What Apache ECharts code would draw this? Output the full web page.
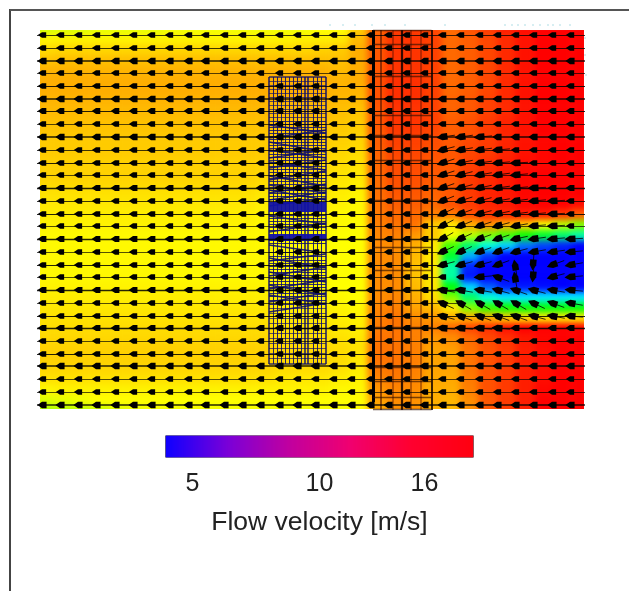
<!DOCTYPE html>
<html><head><meta charset="utf-8">
<style>
html,body{margin:0;padding:0;background:#fff;width:629px;height:591px;overflow:hidden}
#main{width:629px;height:591px}
#main canvas:nth-of-type(1){filter:blur(3px);clip-path:inset(30px 45px 182px 40px)}
#main canvas:nth-of-type(2){filter:blur(.5px)}
</style>
<script src="https://cdn.jsdelivr.net/npm/echarts@6/dist/echarts.min.js"></script>
</head><body><div id="main"></div>
<script>
// flow velocity [m/s], one row per 10 units of height, top to bottom
const velocityRows = [
[11.2,11.3,11.3,11.4,11.4,11.4,11.4,11.5,11.5,11.5,11.5,11.5,11.5,11.5,11.5,11.6,11.6,12.5,14.2,15,15,14.8,14.2,14.6,15,15.5,15.8,16,16,16],
[11.8,11.8,11.8,11.8,11.8,11.8,11.8,11.8,11.8,11.8,11.8,11.8,11.8,11.8,11.9,11.9,12,12.8,14.5,15.1,15.1,14.9,14.2,14.4,14.8,15.3,15.7,16,16,16],
[12.2,12.3,12.3,12.3,12.3,12.3,12.3,12.3,12.3,12.3,12.3,12.3,12.3,12.3,12.3,12.4,12.5,13,14.5,15.1,15.1,14.9,14.2,14.4,14.8,15.3,15.7,16,16,16],
[12.6,12.7,12.7,12.7,12.7,12.7,12.7,12.7,12.7,12.7,12.7,12.7,12.7,12.7,12.7,12.7,12.7,13,14.5,15.1,15.1,14.9,14.2,14.4,14.8,15.3,15.7,16,16,16],
[12.9,12.9,12.9,12.9,12.9,12.9,12.9,12.9,12.9,12.9,12.9,12.9,12.9,12.9,12.9,12.9,12.8,13,14.5,15.1,15.1,14.9,14.2,14.4,14.8,15.3,15.7,16,16,16],
[13,13,13,13,13,13,13,13,13,13,13,13,13,13,13,13,12.9,13,14.6,15.2,15.2,14.9,14.2,14.4,14.8,15.3,15.7,16,16,16],
[13,13,13,13,13,13,13,13,13,13,13,13,13,13,13,13,12.9,12.9,14.6,15.2,15.2,14.9,14.2,14.4,14.8,15.3,15.7,16,16,16],
[12.9,12.9,12.9,12.9,12.9,12.9,12.9,12.9,12.9,12.9,12.9,12.9,12.9,12.9,12.9,12.9,12.8,12.8,14.6,15.2,15.2,14.9,14.3,14.5,14.9,15.3,15.7,16,16,16],
[12.8,12.8,12.8,12.8,12.8,12.8,12.8,12.8,12.8,12.8,12.8,12.8,12.8,12.8,12.8,12.8,12.7,12.6,14.5,15.1,15.1,14.9,14.3,14.5,14.9,15.3,15.7,16,16,16],
[12.7,12.7,12.7,12.7,12.7,12.7,12.7,12.7,12.7,12.7,12.7,12.7,12.7,12.7,12.7,12.7,12.6,12.5,14.5,15.1,15.1,14.9,14.4,14.6,15,15.4,15.7,16,16,16],
[12.6,12.6,12.6,12.6,12.6,12.6,12.6,12.6,12.6,12.6,12.6,12.6,12.6,12.6,12.6,12.6,12.5,12.4,14.4,15,15,14.8,14.4,14.6,15,15.4,15.7,16,16,16],
[12.5,12.5,12.5,12.5,12.5,12.5,12.5,12.5,12.5,12.5,12.5,12.5,12.5,12.5,12.5,12.5,12.4,12.3,14.4,14.9,14.9,14.7,14.5,14.8,15,15.4,15.7,15.9,16,16],
[12.5,12.5,12.5,12.5,12.5,12.5,12.5,12.5,12.5,12.5,12.5,12.5,12.5,12.5,12.5,12.4,12.3,12.2,14.3,14.8,14.8,14.6,14.5,14.8,15,15.4,15.7,15.9,16,16],
[12.4,12.4,12.4,12.4,12.4,12.4,12.4,12.4,12.4,12.4,12.4,12.4,12.4,12.4,12.4,12.3,12.2,12.1,14.2,14.7,14.7,14.5,14.5,14.9,15.2,15.5,15.8,15.9,16,16],
[12.4,12.4,12.4,12.4,12.4,12.4,12.4,12.4,12.4,12.4,12.4,12.4,12.3,12.3,12.3,12.2,12.1,12,14.2,14.7,14.7,14.5,14.5,15,15.3,15.6,15.9,16,16,16],
[12.3,12.3,12.3,12.3,12.3,12.3,12.3,12.3,12.3,12.3,12.3,12.3,12.2,12.2,12.2,12.1,12,11.9,14.1,14.6,14.6,14.4,14.5,15,15.3,15.6,15.9,16,16,16],
[12.1,12.1,12.1,12.1,12.1,12.1,12.1,12.1,12.1,12.1,12.1,12.1,12,12,12,12,11.9,11.8,14.1,14.5,14.5,14.3,14.5,15,15.4,15.6,15.9,16,16,16],
[12,12,12,12,12,12,12,12,12,12,12,12,11.9,11.9,11.9,11.9,11.8,11.7,14,14.4,14.4,14.2,14.6,15,15.4,15.6,15.9,16,16,15.8],
[11.9,11.9,11.9,11.9,11.9,11.9,11.9,11.9,11.9,11.9,11.9,11.9,11.8,11.8,11.8,11.8,11.7,11.7,13.9,14.2,14.2,13.8,13.9,14.6,15.1,15.3,15.5,15.5,15,14.4],
[11.8,11.8,11.8,11.8,11.8,11.8,11.8,11.8,11.8,11.8,11.8,11.8,11.7,11.7,11.7,11.7,11.7,11.6,13.8,14,14,12.5,12,13,13.5,13,12.5,11.5,11,10.5],
[11.7,11.7,11.7,11.7,11.7,11.7,11.7,11.7,11.7,11.7,11.7,11.7,11.7,11.7,11.7,11.7,11.6,11.6,13.7,13.8,13.4,12.5,11.5,11,10.5,10,9.5,9,8.5,8],
[11.7,11.7,11.7,11.7,11.7,11.7,11.7,11.7,11.7,11.7,11.7,11.7,11.7,11.7,11.7,11.7,11.6,11.6,13.6,13.6,13,12,10,8.5,7.5,6.8,6,5.6,5.3,5],
[11.7,11.7,11.7,11.7,11.7,11.7,11.7,11.7,11.7,11.7,11.7,11.7,11.7,11.7,11.7,11.7,11.6,11.6,13.6,13.6,12.8,12,9,6.5,5.5,5,5,5,5,5],
[11.7,11.7,11.7,11.7,11.7,11.7,11.7,11.7,11.7,11.7,11.7,11.7,11.7,11.7,11.7,11.7,11.6,11.6,13.6,13.6,12.7,12,8,5.3,5,5,5,5,5,5],
[11.7,11.7,11.7,11.7,11.7,11.7,11.7,11.7,11.7,11.7,11.7,11.7,11.7,11.7,11.7,11.7,11.6,11.6,13.6,13.6,12.7,12,8,5.2,5,5,5,5,5,5],
[11.8,11.8,11.8,11.8,11.8,11.8,11.8,11.8,11.8,11.8,11.8,11.8,11.8,11.8,11.7,11.7,11.6,11.6,13.6,13.6,12.8,12,9.3,6.8,5.8,5.3,5.2,5.1,5,5],
[11.9,11.9,11.9,11.9,11.9,11.9,11.9,11.9,11.9,11.9,11.9,11.9,11.9,11.8,11.8,11.8,11.7,11.6,13.6,13.7,13,12.2,10.5,8.5,7.5,7,7,7,7,7],
[12,12,12,12,12,12,12,12,12,12,12,12,12,11.9,11.9,11.9,11.8,11.7,13.7,13.8,13.2,12.8,12,10.5,9.8,9.5,9.3,9.3,9.3,9.3],
[12.1,12.1,12.1,12.1,12.1,12.1,12.1,12.1,12.1,12.1,12.1,12.1,12.1,12,12,12,11.9,11.8,13.8,14,13.6,13.4,13,13,13,12.5,12.2,12,12,12],
[12.2,12.2,12.2,12.2,12.2,12.2,12.2,12.2,12.2,12.2,12.2,12.2,12.2,12.1,12.1,12.1,12,11.9,13.9,14,13.8,13.8,14.2,14.8,15.2,15.7,16,16,16,16],
[12.3,12.3,12.3,12.3,12.3,12.3,12.3,12.3,12.3,12.3,12.3,12.3,12.3,12.2,12.2,12.2,12.1,12,14,14,13.8,13.4,13.6,14.2,14.8,15.2,15.6,15.9,16,16],
[12.4,12.4,12.4,12.4,12.4,12.4,12.4,12.4,12.4,12.4,12.4,12.4,12.4,12.3,12.3,12.3,12.2,12.1,14,14,13.8,13.2,13.3,14,14.6,15,15.5,15.8,16,16],
[12.4,12.4,12.4,12.4,12.4,12.4,12.4,12.4,12.4,12.4,12.4,12.4,12.4,12.3,12.3,12.3,12.2,12,14,14,13.8,13.2,13.2,14,14.6,15,15.5,15.8,16,16],
[12.3,12.3,12.3,12.3,12.3,12.3,12.3,12.3,12.3,12.3,12.3,12.3,12.3,12.2,12.2,12.2,12.1,11.9,13.9,14,13.8,13.2,13.2,14,14.6,15,15.5,15.8,16,16],
[12.1,12.1,12.1,12.1,12.1,12.1,12.1,12.1,12.1,12.1,12.1,12.1,12.1,12,12,12,11.9,11.8,13.7,13.9,13.7,13.1,13.1,13.9,14.6,15,15.5,15.8,16,16],
[11.7,11.8,11.8,11.8,11.8,11.8,11.8,11.8,11.8,11.8,11.8,11.8,11.8,11.8,11.8,11.8,11.7,11.7,13.4,13.7,13.6,13,13,13.8,14.6,15,15.5,15.9,16,16],
[11.3,11.4,11.5,11.6,11.6,11.6,11.6,11.6,11.6,11.6,11.6,11.6,11.6,11.6,11.6,11.6,11.6,11.6,13.2,13.6,13.5,13,12.9,13.6,14.5,15,15.5,16,16,16],
[10.8,10.9,11,11.1,11.3,11.4,11.5,11.5,11.5,11.5,11.5,11.5,11.5,11.5,11.5,11.5,11.5,11.6,13,13.5,13.5,13,12.8,13.5,14.5,15,15.5,16,16,16]
];
// arrow glyph stations along and across the section
const arrowX = [2,20,38,56,75,93,111,129,148,165,184,202,220,239,257,275,293,311,330,348,366,384,402,420,439,457,475,493,512,530];
const arrowY = [5,18,31,43,56,69,81,94,107,120,133,145,158,171,184,196,209,222,235,247,260,273,286,298,311,324,336,349,362,375];
// arrow tilt in degrees for the wake, rows 8..23, stations 22..29
const wakeTiltFirstRow = 8, wakeTiltFirstCol = 22;
const wakeTilt = [
[8,8,5,0,0,0,0,0],
[15,10,8,5,0,0,0,0],
[18,12,8,5,3,0,0,0],
[18,15,10,8,5,0,0,0],
[20,15,12,8,5,3,0,0],
[22,18,15,10,8,5,3,0],
[25,20,15,12,8,5,3,0],
[28,22,18,15,10,5,3,0],
[30,25,20,18,12,8,5,3],
[25,25,20,20,15,10,8,5],
[15,15,15,20,-80,85,20,10],
[0,0,5,-20,-80,85,15,5],
[-10,-10,-10,-15,-20,-15,-10,-5],
[-25,-30,-30,-30,-30,-25,-20,-10],
[-15,-20,-20,-20,-20,-15,-10,-5],
[-5,-5,-5,-5,0,0,0,0]
];
// upstream wire-frame structure
const meshX = [229,233,237,241,245,249,253,257,261,265,268,273,277,281,286];
const meshY = [47,51,55,59,63,67,71,75,79,83,87,91,94,97,100,103,106,109,112,115,118,121,124,127,130,133,136,139,142,145,148,151,154,157,160,163,166,169,172,185,188,191,194,197,200,210,213,222,226,230,233,236,239,242,245,248,251,254,257,260,263,266,270,274,278,283,288,293,298,303,308,313,318,323,328,334];
const meshSlants = [[95,103],[108,100],[112,122],[128,120],[132,140],[150,141],[146,156],[163,154],[160,170],[176,168],[120,128],[138,130],[155,163],[170,162],[186,194],[202,193],[215,223],[231,224],[228,238],[246,237],[242,252],[259,250],[255,265],[272,263],[265,274],[282,273]];
const meshBands = [[177,10],[207,7]];
// downstream wind-turbine frame
const towerX = [333,341,353,362,371,381,391.5];
const towerY = [0,14,46,85,105,130,170,217,240,297,337,351,367,379];
// stray glyphs just outside the plotted field
const strayPoints = [[290,-5],[303,-5],[315,-5],[332,-5],[345,-5],[365,-5],[405,-5],[465,-5],[472,-5],[478,-5],[485,-5],[493,-5],[500,-5],[508,-5],[513,-5],[520,-5],[530,-5],[545,8],[545,25],[546,45]];
// colour bar
const colorbarLevels = 307;
const colorbarTicks = {26:'5', 153:'10', 258:'16'};
const colorbarTitle = 'Flow velocity [m/s]';

const lineWidths = [.9,.9,1.6,.8,1,1.6,1.1,.8,1.6,.9,1,.8,1.4,.9,1,.8,1.3,.8,1,.8,1.4,.8,1,1.4,.8,1,1.6,.8,.8,1.6];
const rowLineEnd = {16:400,17:400,18:400,19:400,20:420,21:420};

const heatData = [];
velocityRows.forEach((row,r)=>row.forEach((v,c)=>heatData.push([c,r,v])));

const rowLines = arrowY.map((y,r)=>({coords:[[-3,y],[rowLineEnd[r]||545,y]],lineStyle:{width:lineWidths[r],color:'#000',opacity:.85}}));
const arrows=[], tails=[];
arrowY.forEach((y,r)=>arrowX.forEach((x,c)=>{
  const tr=wakeTilt[r-wakeTiltFirstRow];
  const tilt=tr&&c>=wakeTiltFirstCol?tr[c-wakeTiltFirstCol]:0;
  const w=lineWidths[r];
  arrows.push({value:[x,y],symbolRotate:tilt,symbolSize:tilt?[11,6.5]:[7.5+w,4+1.6*w]});
  if(tilt){const a=tilt*Math.PI/180;tails.push({coords:[[x,y],[x+13*Math.cos(a),y-13*Math.sin(a)]],lineStyle:{width:1,color:'#000',opacity:.8}});}
}));
const navy='#10106a';
const meshLines=[];
meshX.forEach((x,i)=>meshLines.push({coords:[[x,meshY[0]],[x,meshY[meshY.length-1]]],lineStyle:{width:(i===0||i===9||i===10||i===14)?1.6:1,color:navy,opacity:.9}}));
meshY.forEach(y=>meshLines.push({coords:[[meshX[0],y],[meshX[meshX.length-1],y]],lineStyle:{width:y<=47||y>=334?1.6:(y>90&&y<275?1.1:.8),color:navy,opacity:.85}}));
meshSlants.forEach(s=>meshLines.push({coords:[[meshX[0],s[0]],[meshX[meshX.length-1],s[1]]],lineStyle:{width:1.4,color:navy,opacity:.9}}));
meshBands.forEach(b=>meshLines.push({coords:[[meshX[0],b[0]],[meshX[meshX.length-1],b[0]]],lineStyle:{width:b[1],color:'#1212a8',opacity:.95}}));
const towerLines=[];
const towerStyle=[[3,'#000',1],[2,'#501000',.6],[2,'#501000',.4],[2.2,'#100000',.85],[2,'#501000',.4],[2,'#501000',.4],[1.8,'#100000',.9]];
towerX.forEach((x,i)=>towerLines.push({coords:[[x,0],[x,i===0?372:380]],lineStyle:{width:towerStyle[i][0],color:towerStyle[i][1],opacity:towerStyle[i][2]}}));
towerY.forEach(y=>towerLines.push({coords:[[towerX[0],y],[towerX[6],y]],lineStyle:{width:1.4,color:'#301000',opacity:.65}}));

const cbCats=[],cbData=[];
for(let i=0;i<colorbarLevels;i++){cbCats.push(colorbarTicks[i]||'');cbData.push([i,0,i]);}

const plot={left:40,top:30,width:544,height:380};
const chart=echarts.init(document.getElementById('main'),null,{renderer:'canvas'});
chart.setOption({
  animation:false,
  grid:[{left:34,top:24,width:556,height:392},plot,{left:166,top:436,width:307,height:21}],
  xAxis:[
    {type:'category',gridIndex:0,show:false,data:velocityRows[0].map((_,i)=>i)},
    {type:'value',gridIndex:1,show:false,min:0,max:544},
    {type:'category',gridIndex:2,data:cbCats,zlevel:1,name:colorbarTitle,nameLocation:'center',nameGap:52,
     nameTextStyle:{fontFamily:'Liberation Sans',fontSize:26.5,color:'#222'},
     axisLine:{show:false},axisTick:{show:false},
     axisLabel:{interval:0,margin:15,fontFamily:'Liberation Sans',fontSize:25,color:'#222'}}
  ],
  yAxis:[
    {type:'category',gridIndex:0,show:false,inverse:true,data:velocityRows.map((_,i)=>i)},
    {type:'value',gridIndex:1,show:false,inverse:true,min:0,max:380},
    {type:'category',gridIndex:2,show:false,data:[0]}
  ],
  visualMap:[
    {show:false,seriesIndex:0,dimension:2,min:5,max:16,inRange:{color:['#0000ff','#00ffff','#00ff00','#ffff00','#ff8000','#ff0000']}},
    {show:false,seriesIndex:6,dimension:2,min:0,max:colorbarLevels-1,inRange:{color:['#1000ff','#7a00d8','#c000a0','#f00070','#ff0030','#ff0010']}}
  ],
  series:[
    {type:'heatmap',xAxisIndex:0,yAxisIndex:0,data:heatData,progressive:0,silent:true},
    {type:'lines',coordinateSystem:'cartesian2d',xAxisIndex:1,yAxisIndex:1,zlevel:1,z:3,data:meshLines,silent:true,progressive:0,clip:false},
    {type:'lines',coordinateSystem:'cartesian2d',xAxisIndex:1,yAxisIndex:1,zlevel:1,z:4,data:towerLines,silent:true,progressive:0,clip:false},
    {type:'lines',coordinateSystem:'cartesian2d',xAxisIndex:1,yAxisIndex:1,zlevel:1,z:5,data:rowLines,silent:true,progressive:0,clip:false},
    {type:'lines',coordinateSystem:'cartesian2d',xAxisIndex:1,yAxisIndex:1,zlevel:1,z:5,data:tails,silent:true,progressive:0,clip:false},
    {type:'scatter',xAxisIndex:1,yAxisIndex:1,zlevel:1,z:6,data:arrows,symbol:'path://M0,5 L5,0 L10,0 L10,10 L5,10 Z',itemStyle:{color:'#000',opacity:1},silent:true,clip:false},
    {type:'heatmap',xAxisIndex:2,yAxisIndex:2,zlevel:1,data:cbData,progressive:0,silent:true},
    {type:'scatter',xAxisIndex:1,yAxisIndex:1,zlevel:1,data:strayPoints,symbolSize:1.6,itemStyle:{color:'#8fcfdc',opacity:.8},silent:true,clip:false}
  ],
  graphic:[
    {type:'line',zlevel:1,silent:true,shape:{x1:10,y1:9,x2:10,y2:591},style:{stroke:'#444',lineWidth:2}},
    {type:'line',zlevel:1,silent:true,shape:{x1:10,y1:10,x2:629,y2:10},style:{stroke:'#555',lineWidth:2}},
    {type:'rect',zlevel:1,silent:true,shape:{x:166,y:436,width:307,height:21},style:{fill:'none',stroke:'#111',lineWidth:1.2}}
  ]
});
</script></body></html>
